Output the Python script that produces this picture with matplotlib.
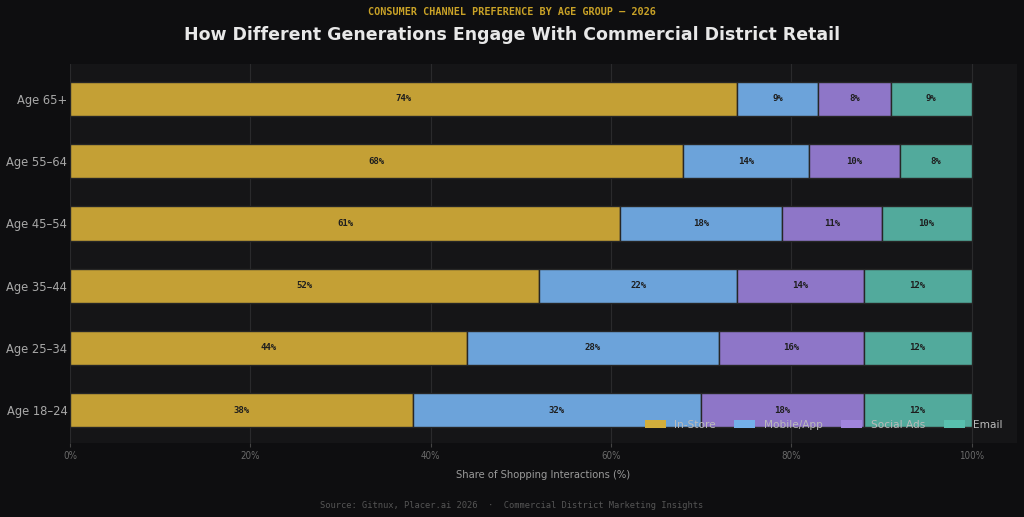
import matplotlib
matplotlib.use("Agg")
import matplotlib.pyplot as plt
from matplotlib.patches import Patch
import numpy as np

categories = ["Age 65+", "Age 55–64", "Age 45–54", "Age 35–44", "Age 25–34", "Age 18–24"]
series_names = ["In-Store", "Mobile/App", "Social Ads", "Email"]
in_store = [74, 68, 61, 52, 44, 38]
mobile_app = [9, 14, 18, 22, 28, 32]
social_ads = [8, 10, 11, 14, 16, 18]
email = [9, 8, 10, 12, 12, 12]
x_ticks = [0, 20, 40, 60, 80, 100]

series = [in_store, mobile_app, social_ads, email]
colors = ["#C4A035", "#6CA3DA", "#8E76C8", "#52AA9C"]
legend_colors = ["#D2AE3C", "#74B0EA", "#A084DC", "#58C0AE"]

fig = plt.figure(figsize=(10.24, 5.17), dpi=100)
fig.patch.set_facecolor("#0E0E10")
ax = fig.add_axes([0.0684, 0.143, 0.9246, 0.733])
ax.set_facecolor("#151517")

y = np.arange(len(categories))
left = np.zeros(len(categories))
for vals, col in zip(series, colors):
    vals = np.array(vals, dtype=float)
    ax.barh(y, vals, left=left, height=0.55, color=col,
            edgecolor="#262626", linewidth=1.0, zorder=3)
    for yi, (l, v) in enumerate(zip(left, vals)):
        ax.text(l + v / 2, yi, f"{int(v)}%", ha="center", va="center",
                fontsize=6.5, fontweight="bold", family="DejaVu Sans Mono",
                color="#1E1E1E", zorder=4)
    left += vals

ax.set_xlim(0, 105)
ax.set_ylim(5.53, -0.56)
ax.set_yticks(y)
ax.set_yticklabels(categories, color="#A8A8A8", fontsize=8.3)
ax.tick_params(axis="y", length=0, pad=2)
ax.set_xticks(x_ticks)
ax.set_xticklabels([f"{t}%" for t in x_ticks], color="#6A6A6A", fontsize=7,
                   family="DejaVu Sans", stretch="condensed")
ax.tick_params(axis="x", length=3, color="#444444", pad=3)
ax.grid(axis="x", color="#2A2A2C", linewidth=0.8, zorder=0)
for s in ax.spines.values():
    s.set_visible(False)

ax.set_xlabel("Share of Shopping Interactions (%)", color="#9A9A9A", fontsize=8,
              family="DejaVu Sans", stretch="condensed", labelpad=6)

handles = [Patch(facecolor=c, label=n) for c, n in zip(legend_colors, series_names)]
leg = ax.legend(handles=handles, loc="lower right", ncol=4, frameon=False,
                fontsize=7.6, labelcolor="#BBBBBB", bbox_to_anchor=(0.995, 0.01),
                handlelength=2.0, columnspacing=1.75)

fig.text(0.5, 0.977, "CONSUMER CHANNEL PREFERENCE BY AGE GROUP — 2026", ha="center",
         va="center", color="#C9A227", fontsize=7.3, fontweight="bold",
         family="DejaVu Sans Mono")
fig.text(0.5, 0.932, "How Different Generations Engage With Commercial District Retail",
         ha="center", va="center", color="#E8E8E8", fontsize=12.5, fontweight="bold")
fig.text(0.5, 0.023, "Source: Gitnux, Placer.ai 2026  ·  Commercial District Marketing Insights",
         ha="center", va="center", color="#555555", fontsize=6.3,
         family="DejaVu Sans Mono")

fig.savefig("out.png", dpi=100, facecolor=fig.get_facecolor())
